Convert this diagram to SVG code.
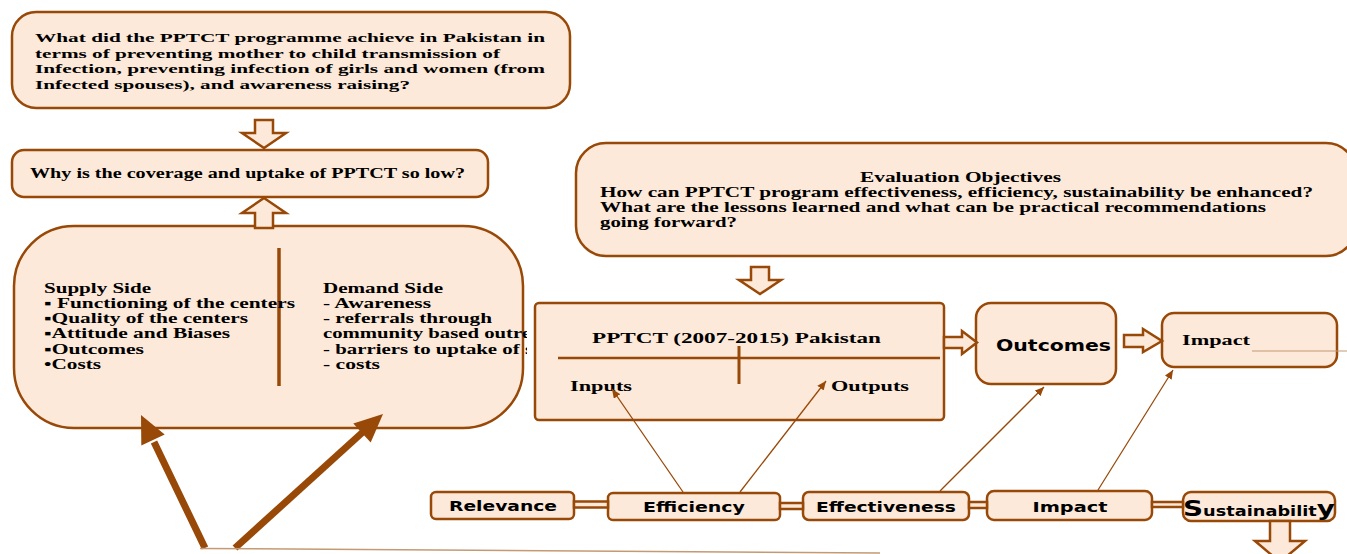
<svg xmlns="http://www.w3.org/2000/svg" width="1347" height="554" viewBox="0 0 1347 554">
<style>
.box{fill:#FDE9D9;stroke:#984807;stroke-width:2.5}
.harrow{fill:#FDE9D9;stroke:#984807;stroke-width:2.5;stroke-linejoin:miter}
.sf{font-family:"Liberation Serif","Times New Roman",serif;font-weight:bold;fill:#000}
.ss{font-family:"DejaVu Sans",Verdana,sans-serif;font-weight:bold;fill:#000}
.thin{stroke:#984807;stroke-width:1.3;fill:none}
.thick{stroke:#984807;stroke-width:7;fill:none}
.head{fill:#984807}
</style>
<defs>
<marker id="ah" markerUnits="userSpaceOnUse" markerWidth="10" markerHeight="10" refX="9" refY="4" orient="auto">
<path d="M0,0 L9,4 L0,8 z" fill="#984807"/>
</marker>
<clipPath id="clipL"><rect x="0" y="0" width="527" height="554"/></clipPath>
</defs>
<rect width="1347" height="554" fill="#fff"/>

<g id="q1">
<rect class="box" x="12" y="12" width="558" height="96" rx="24"/>
<g class="sf" font-size="13.5">
<text x="35" y="42" textLength="510" lengthAdjust="spacingAndGlyphs">What did the PPTCT programme achieve in Pakistan in</text>
<text x="35" y="57.5" textLength="465" lengthAdjust="spacingAndGlyphs">terms of preventing mother to child transmission of</text>
<text x="35" y="73" textLength="510" lengthAdjust="spacingAndGlyphs">Infection, preventing infection of girls and women (from</text>
<text x="35" y="88.5" textLength="375" lengthAdjust="spacingAndGlyphs">Infected spouses), and awareness raising?</text>
</g>
</g>

<g id="q2">
<rect class="box" x="12" y="150" width="476" height="47" rx="12"/>
<text class="sf" font-size="14" x="30" y="178" textLength="435" lengthAdjust="spacingAndGlyphs">Why is the coverage and uptake of PPTCT so low?</text>
</g>

<g id="factors">
<rect class="box" x="14" y="226" width="509" height="202" rx="60"/>
<line x1="279" y1="248" x2="279" y2="386" stroke="#984807" stroke-width="3.5"/>
<g class="sf" font-size="14">
<text x="44" y="293" textLength="107" lengthAdjust="spacingAndGlyphs">Supply Side</text>
<text x="44" y="308" textLength="251" lengthAdjust="spacingAndGlyphs">▪ Functioning of the centers</text>
<text x="44" y="323" textLength="204" lengthAdjust="spacingAndGlyphs">▪Quality of the centers</text>
<text x="44" y="338" textLength="186" lengthAdjust="spacingAndGlyphs">▪Attitude and Biases</text>
<text x="44" y="354" textLength="100" lengthAdjust="spacingAndGlyphs">▪Outcomes</text>
<text x="44" y="369" textLength="57" lengthAdjust="spacingAndGlyphs">•Costs</text>
</g>
<g class="sf" font-size="14" clip-path="url(#clipL)">
<text x="323" y="293" textLength="120" lengthAdjust="spacingAndGlyphs">Demand Side</text>
<text x="323" y="308" textLength="108" lengthAdjust="spacingAndGlyphs">- Awareness</text>
<text x="323" y="323" textLength="169" lengthAdjust="spacingAndGlyphs">- referrals through</text>
<text x="323" y="338" textLength="208" lengthAdjust="spacingAndGlyphs">community based outre</text>
<text x="323" y="354" textLength="210" lengthAdjust="spacingAndGlyphs">- barriers to uptake of s</text>
<text x="323" y="369" textLength="57" lengthAdjust="spacingAndGlyphs">- costs</text>
</g>
</g>

<g id="objectives">
<rect class="box" x="576" y="143" width="780" height="113" rx="30"/>
<g class="sf" font-size="14.5">
<text x="860" y="181.5" textLength="201" lengthAdjust="spacingAndGlyphs">Evaluation Objectives</text>
<text x="600" y="197" textLength="713" lengthAdjust="spacingAndGlyphs">How can PPTCT program effectiveness, efficiency, sustainability be enhanced?</text>
<text x="600" y="212" textLength="666" lengthAdjust="spacingAndGlyphs">What are the lessons learned and what can be practical recommendations</text>
<text x="600" y="226.5" textLength="137" lengthAdjust="spacingAndGlyphs">going forward?</text>
</g>
</g>

<g id="pptct">
<rect class="box" x="535" y="303" width="409" height="117" rx="4"/>
<text class="sf" font-size="15.5" x="592" y="343" textLength="289" lengthAdjust="spacingAndGlyphs">PPTCT (2007-2015) Pakistan</text>
<line x1="558" y1="358" x2="940" y2="358" stroke="#984807" stroke-width="2.5"/>
<line x1="739" y1="346" x2="739" y2="384" stroke="#984807" stroke-width="3"/>
<text class="sf" font-size="15" x="570" y="391" textLength="62" lengthAdjust="spacingAndGlyphs">Inputs</text>
<text class="sf" font-size="15" x="831" y="391" textLength="78" lengthAdjust="spacingAndGlyphs">Outputs</text>
</g>

<g id="outcomes">
<rect class="box" x="976" y="303" width="140" height="81" rx="15"/>
<text class="ss" font-size="16" x="996" y="351" textLength="115" lengthAdjust="spacingAndGlyphs">Outcomes</text>
</g>

<g id="impact-box">
<rect class="box" x="1162" y="313" width="175" height="54" rx="12"/>
<text class="sf" font-size="15" x="1182" y="345" textLength="68" lengthAdjust="spacingAndGlyphs">Impact</text>
<line x1="1252" y1="351" x2="1347" y2="351" stroke="#c49a74" stroke-width="1.2"/>
</g>

<g id="relevance">
<rect class="box" x="431" y="492" width="143" height="27" rx="5"/>
<text class="ss" font-size="14" x="503" y="511" text-anchor="middle" textLength="108" lengthAdjust="spacingAndGlyphs">Relevance</text>
</g>
<g id="efficiency">
<rect class="box" x="608" y="493" width="172" height="27" rx="5"/>
<text class="ss" font-size="14" x="694" y="512" text-anchor="middle" textLength="102" lengthAdjust="spacingAndGlyphs">Efficiency</text>
</g>
<g id="effectiveness">
<rect class="box" x="803" y="492" width="166" height="28" rx="6"/>
<text class="ss" font-size="14" x="886" y="512" text-anchor="middle" textLength="140" lengthAdjust="spacingAndGlyphs">Effectiveness</text>
</g>
<g id="impact">
<rect class="box" x="987" y="491" width="165" height="29" rx="7"/>
<text class="ss" font-size="14" x="1070" y="512" text-anchor="middle" textLength="75" lengthAdjust="spacingAndGlyphs">Impact</text>
</g>
<g id="sustainability">
<rect class="box" x="1183" y="492" width="152" height="29" rx="8"/>
<text class="ss" font-size="14" x="1183" y="516" textLength="152" lengthAdjust="spacingAndGlyphs"><tspan font-size="22">S</tspan>ustainabilit<tspan font-size="22">y</tspan></text>
</g>

<g id="connectors">
<polygon class="harrow" points="255,120 273,120 273,133 286,133 264,148 242,133 255,133"/>
<polygon class="harrow" points="264,198 286,213 273,213 273,228 255,228 255,213 242,213"/>
<polygon class="harrow" points="751,267 769,267 769,280 781,280 760,294 739,280 751,280"/>
<polygon class="harrow" points="944,337 962,337 962,331 977,342.5 962,354 962,348 944,348"/>
<polygon class="harrow" points="1124,335 1143,335 1143,329 1162,341 1143,352 1143,347 1124,347"/>
<polygon class="harrow" points="1270,521 1290,521 1290,541 1305,541 1280,562 1255,541 1270,541"/>

<rect class="harrow" x="574" y="501.5" width="34" height="6" stroke-width="1.5"/>
<rect class="harrow" x="780" y="503" width="23" height="6" stroke-width="1.5"/>
<rect class="harrow" x="969" y="502" width="18" height="6" stroke-width="1.5"/>
<rect class="harrow" x="1152" y="502" width="31" height="5" stroke-width="1.5"/>

<line class="thick" x1="205" y1="548" x2="154" y2="442"/>
<polygon class="head" points="141,415 164.7,434.4 141.3,445.6"/>
<line class="thick" x1="235" y1="548" x2="364" y2="431"/>
<polygon class="head" points="383,414 370.7,442.6 353.3,423.4"/>
<line x1="200" y1="548.5" x2="880" y2="553" stroke="#c49a74" stroke-width="1.5"/>

<line class="thin" x1="683" y1="492" x2="612" y2="389" marker-end="url(#ah)"/>
<line class="thin" x1="740" y1="492" x2="826" y2="381" marker-end="url(#ah)"/>
<line class="thin" x1="940" y1="491" x2="1044" y2="387" marker-end="url(#ah)"/>
<line class="thin" x1="1098" y1="490" x2="1173" y2="370" marker-end="url(#ah)"/>
</g>
</svg>
